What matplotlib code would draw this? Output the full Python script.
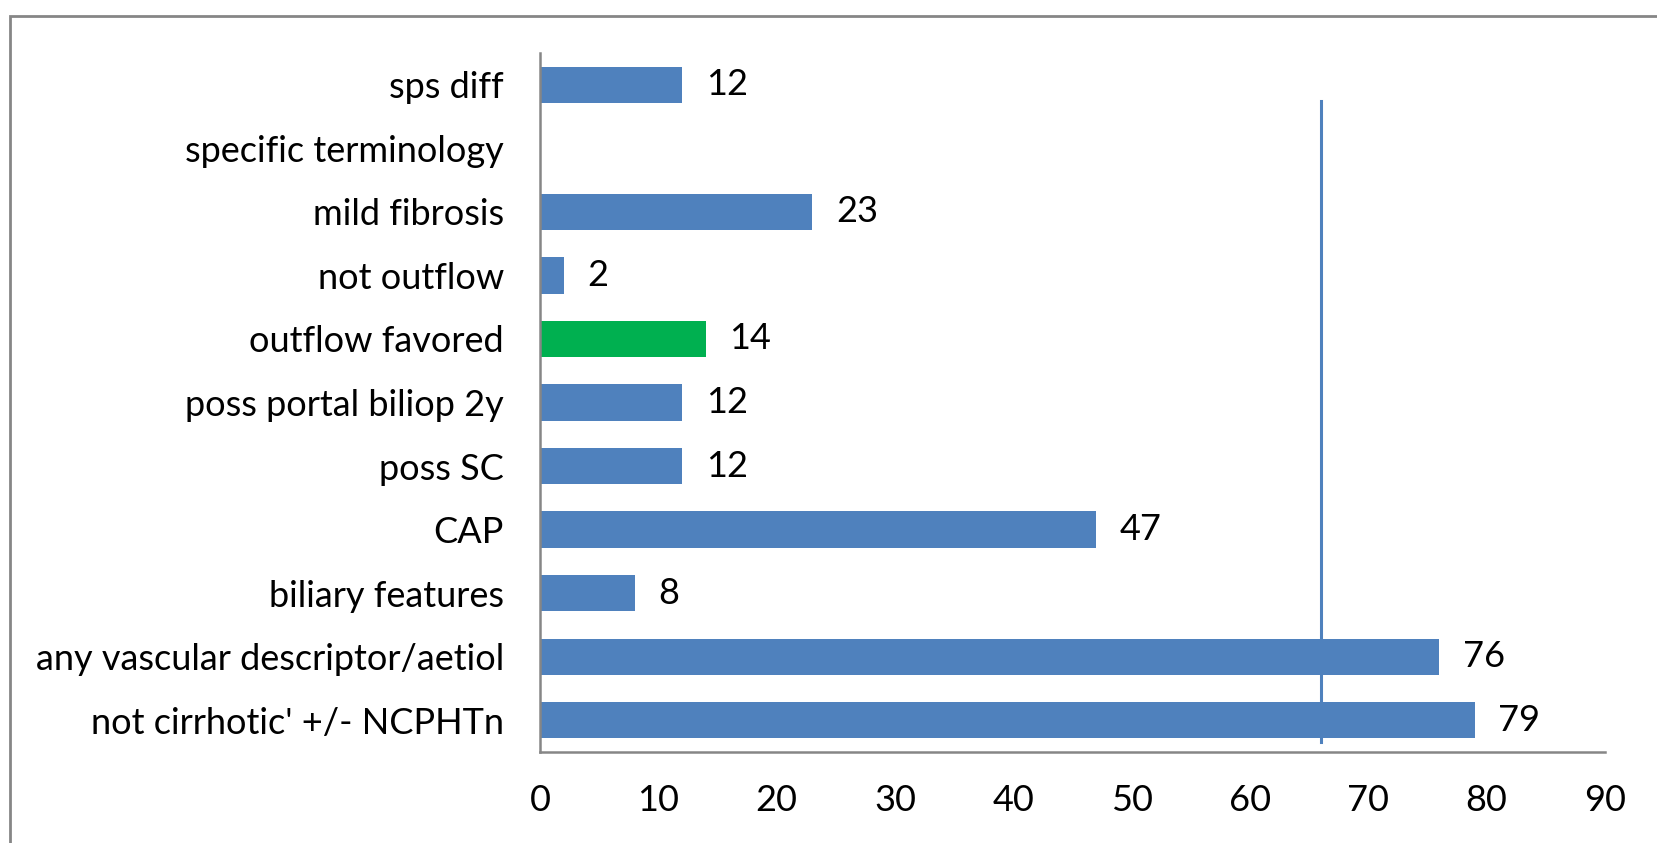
import matplotlib.pyplot as plt
from matplotlib.patches import Rectangle

categories = ["not cirrhotic' +/- NCPHTn", "any vascular descriptor/aetiol",
              "biliary features", "CAP", "poss SC", "poss portal biliop 2y",
              "outflow favored", "not outflow", "mild fibrosis",
              "specific terminology", "sps diff"]
values = [79, 76, 8, 47, 12, 12, 14, 2, 23, None, 12]
colors = ["#4F81BD"] * 6 + ["#00B050"] + ["#4F81BD"] * 4
ref_x = 66
ref_y = [-0.34, 9.75]
xticks = [0, 10, 20, 30, 40, 50, 60, 70, 80, 90]

plt.rcParams['font.family'] = ['Lato', 'DejaVu Sans']

fig = plt.figure(figsize=(16.57, 8.43), dpi=100)
ax = fig.add_axes([540 / 1657, 1 - 752 / 843, 1065 / 1657, 699 / 843])

pos = list(range(len(categories)))
bar_vals = [v if v is not None else 0 for v in values]
ax.barh(pos, bar_vals, height=0.57, color=colors)
for p, v in zip(pos, values):
    if v is not None:
        ax.annotate(str(v), (v, p), xytext=(17, 0), textcoords="offset points",
                    ha="left", va="center", fontsize=26)

ax.plot([ref_x, ref_x], ref_y, color="#4F81BD", linewidth=2.2)

ax.set_xlim(0, 90)
ax.set_ylim(-0.5, len(categories) - 0.5)
ax.set_xticks(xticks)
ax.set_yticks(pos)
ax.set_yticklabels(categories)
ax.tick_params(axis="both", length=0, labelsize=26)
ax.tick_params(axis="x", pad=23)
ax.tick_params(axis="y", pad=26)
for s in ["top", "right"]:
    ax.spines[s].set_visible(False)
for s in ["left", "bottom"]:
    ax.spines[s].set_color("#868686")
    ax.spines[s].set_linewidth(1.8)

fig.patches.append(Rectangle((10 / 1657, -0.1), 1.2, (843 - 16) / 843 + 0.1,
                             transform=fig.transFigure, fill=False,
                             edgecolor="#868686", linewidth=2))

fig.savefig("out.png", dpi=100)
